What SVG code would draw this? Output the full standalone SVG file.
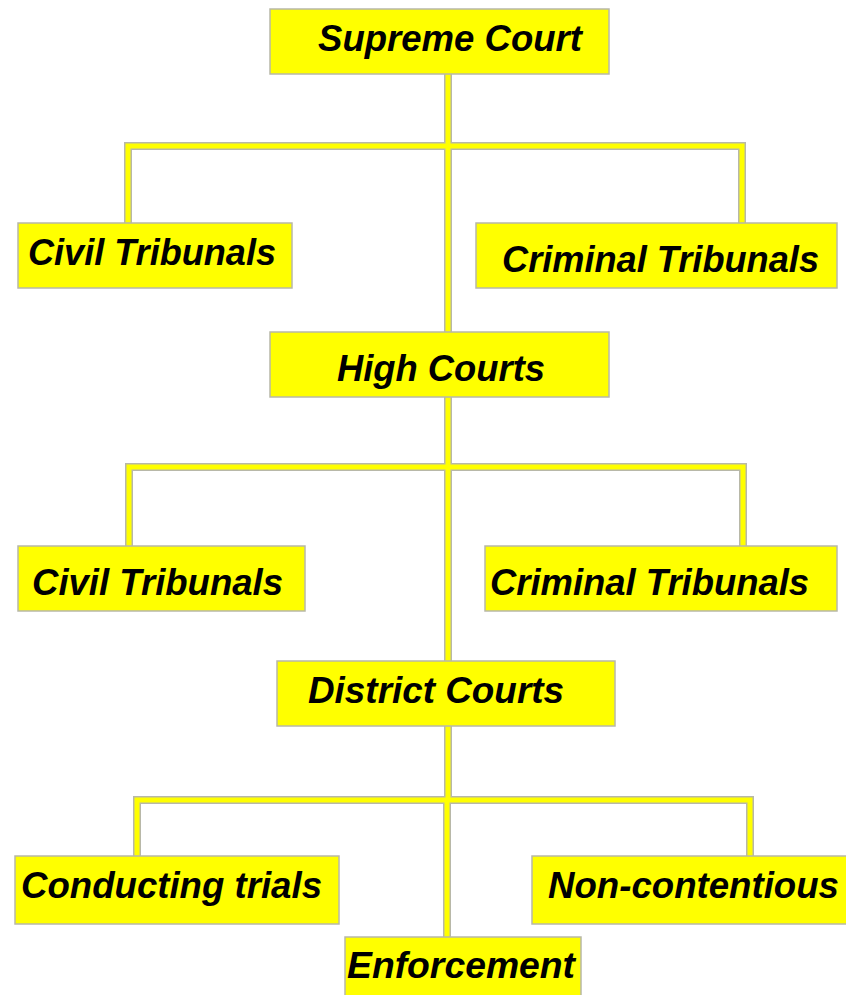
<svg xmlns="http://www.w3.org/2000/svg" width="846" height="995" viewBox="0 0 846 995">
<style>
.box{fill:#FFFF00;stroke:#B8B8A8;stroke-width:1.5}
.lbl{font-family:"Liberation Sans",Arial,sans-serif;font-weight:bold;font-style:italic;font-size:36px;fill:#000}
.edge{fill:none;stroke:#B8B8A8;stroke-width:8;stroke-linejoin:miter;stroke-linecap:butt}
.core{fill:none;stroke:#FFFF00;stroke-width:5;stroke-linejoin:miter;stroke-linecap:butt}
</style>
<rect width="846" height="995" fill="#fff"/>
<g id="connectors">
<path class="edge" d="M448 74V332M128 223V146H742V223M448 397V661M129 546V467H743V546M448 726V800M137 856V800H750V856M447 800V937"/>
<path class="core" d="M448 74V332M128 223V146H742V223M448 397V661M129 546V467H743V546M448 726V800M137 856V800H750V856M447 800V937"/>
</g>
<g id="supreme-court"><rect class="box" x="270" y="9" width="339" height="65"/><text class="lbl" x="318" y="51" textLength="264" lengthAdjust="spacingAndGlyphs">Supreme Court</text></g>
<g id="civil-tribunals-1"><rect class="box" x="18" y="223" width="274" height="65"/><text class="lbl" x="28" y="265" textLength="248" lengthAdjust="spacingAndGlyphs">Civil Tribunals</text></g>
<g id="criminal-tribunals-1"><rect class="box" x="476" y="223" width="361" height="65"/><text class="lbl" x="502" y="272" textLength="317" lengthAdjust="spacingAndGlyphs">Criminal Tribunals</text></g>
<g id="high-courts"><rect class="box" x="270" y="332" width="339" height="65"/><text class="lbl" x="337" y="381" textLength="208" lengthAdjust="spacingAndGlyphs">High Courts</text></g>
<g id="civil-tribunals-2"><rect class="box" x="18" y="546" width="287" height="65"/><text class="lbl" x="32" y="595" textLength="251" lengthAdjust="spacingAndGlyphs">Civil Tribunals</text></g>
<g id="criminal-tribunals-2"><rect class="box" x="485" y="546" width="352" height="65"/><text class="lbl" x="490" y="595" textLength="319" lengthAdjust="spacingAndGlyphs">Criminal Tribunals</text></g>
<g id="district-courts"><rect class="box" x="277" y="661" width="338" height="65"/><text class="lbl" x="308" y="703" textLength="256" lengthAdjust="spacingAndGlyphs">District Courts</text></g>
<g id="conducting-trials"><rect class="box" x="15" y="856" width="324" height="68"/><text class="lbl" x="21" y="898" textLength="301" lengthAdjust="spacingAndGlyphs">Conducting trials</text></g>
<g id="non-contentious"><rect class="box" x="532" y="856" width="320" height="68"/><text class="lbl" x="548" y="898" textLength="291" lengthAdjust="spacingAndGlyphs">Non-contentious</text></g>
<g id="enforcement"><rect class="box" x="345" y="937" width="236" height="64"/><text class="lbl" x="347" y="978" textLength="228" lengthAdjust="spacingAndGlyphs">Enforcement</text></g>
</svg>
